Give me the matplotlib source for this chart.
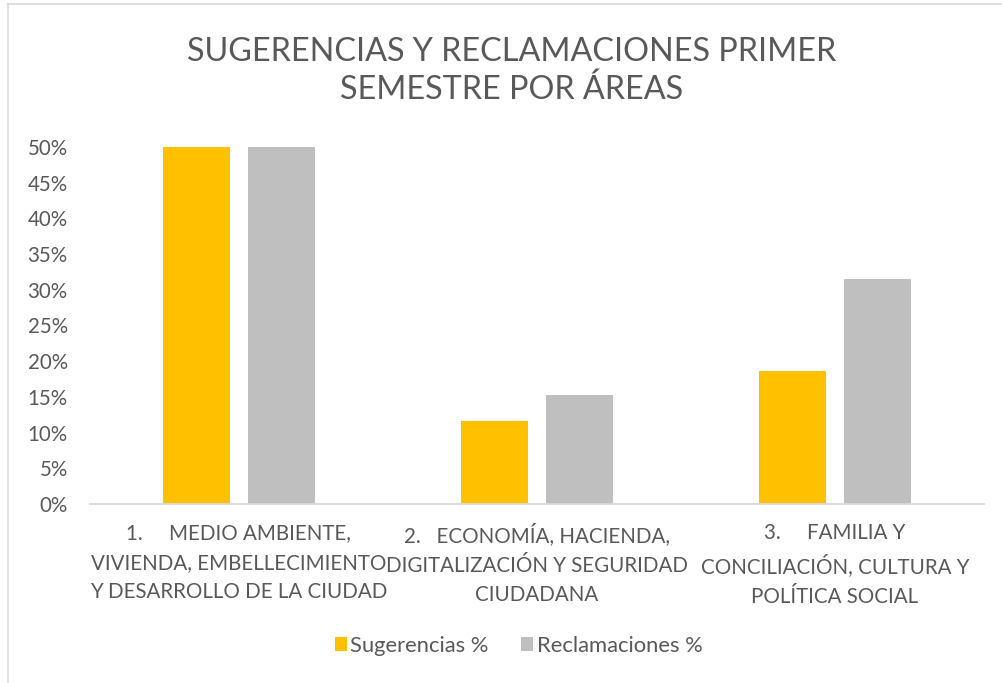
import matplotlib.pyplot as plt
import numpy as np
from matplotlib.lines import Line2D
from matplotlib.ticker import PercentFormatter

plt.rcParams['font.family'] = ['Lato', 'DejaVu Sans']

# Data
categories = [
    "1.     MEDIO AMBIENTE,\nVIVIENDA, EMBELLECIMIENTO\nY DESARROLLO DE LA CIUDAD",
    "2.   ECONOMÍA, HACIENDA,\nDIGITALIZACIÓN Y SEGURIDAD\nCIUDADANA",
    "3.     FAMILIA Y\nCONCILIACIÓN, CULTURA Y\nPOLÍTICA SOCIAL",
]
sugerencias = [0.50, 0.116, 0.186]
reclamaciones = [0.50, 0.152, 0.315]
series_names = ["Sugerencias %", "Reclamaciones %"]
yticks = [0, 0.05, 0.10, 0.15, 0.20, 0.25, 0.30, 0.35, 0.40, 0.45, 0.50]

text_color = '#595959'
orange = '#FFC000'
gray = '#BFBFBF'

fig = plt.figure(figsize=(10.03, 6.83), dpi=100)
ax = fig.add_axes([0.0897, 0.262, 0.8913, 0.523])

x = np.arange(len(categories))
w = 0.225
off = 0.1426
ax.bar(x - off, sugerencias, w, color=orange, label=series_names[0])
ax.bar(x + off, reclamaciones, w, color=gray, label=series_names[1])

ax.set_xlim(-0.5, 2.5)
ax.set_ylim(0, 0.5)
ax.set_yticks(yticks)
ax.yaxis.set_major_formatter(PercentFormatter(1.0, decimals=0))
ax.set_xticks(x)
ax.set_xticklabels(categories, linespacing=1.58)

for s in ['top', 'right', 'left']:
    ax.spines[s].set_visible(False)
ax.spines['bottom'].set_color('#D9D9D9')
ax.spines['bottom'].set_linewidth(1.3)
ax.tick_params(axis='both', length=0, labelsize=14.8, colors=text_color)
ax.tick_params(axis='x', pad=14)
ax.tick_params(axis='y', pad=16)

fig.text(0.51, 1 - 71 / 683, "SUGERENCIAS Y RECLAMACIONES PRIMER\nSEMESTRE POR ÁREAS",
         ha='center', va='center', fontsize=23.3, color=text_color, linespacing=1.3)

fig.legend(loc='center', bbox_to_anchor=(0.517, 1 - 646 / 683), ncol=2, frameon=False,
           fontsize=15.8, labelcolor=text_color, handlelength=0.55, handleheight=0.6,
           handletextpad=0.15, columnspacing=1.5)

# chart area border (top and left edges visible)
fig.add_artist(Line2D([8.5 / 1003, 8.5 / 1003], [0, 1 - 3.5 / 683], transform=fig.transFigure,
                      color='#D9D9D9', lw=1.2))
fig.add_artist(Line2D([8.5 / 1003, 1], [1 - 3.5 / 683, 1 - 3.5 / 683], transform=fig.transFigure,
                      color='#D9D9D9', lw=1.2))

fig.savefig('out.png', dpi=100)
